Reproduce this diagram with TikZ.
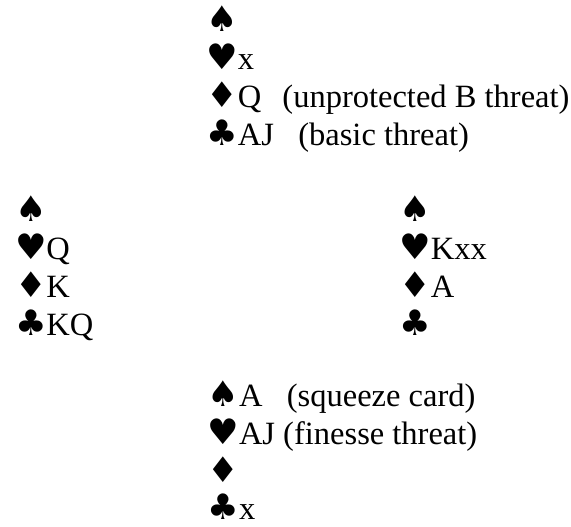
\documentclass[tikz,border=0pt]{standalone}
\usepackage{fontspec}
\setmainfont{Liberation Serif}
\newfontfamily\suitfont{DejaVu Sans}
\usetikzlibrary{positioning}

% suit symbol in a box of fixed width, so the cards line up
\newcommand{\suit}[1]{\makebox[11.5pt][l]{{\suitfont\fontsize{13}{14}\selectfont #1}}}

\begin{document}
\begin{tikzpicture}[
    cards/.style={anchor=base west, inner sep=0pt, font=\fontsize{12}{14}\selectfont}
]
\useasboundingbox (0,0) rectangle (7.409,-6.838);

% North
\node[cards] (n-s) at (2.675,-0.410) {\suit{♠}};
\node[cards] (n-h) at (2.675,-0.903) {\suit{♥}x};
\node[cards] (n-d) at (2.675,-1.396) {\suit{♦}Q\hspace{7.8pt}(unprotected B threat)};
\node[cards] (n-c) at (2.675,-1.890) {\suit{♣}AJ\ \ \ (basic threat)};

% West
\node[cards] (w-s) at (0.190,-2.868) {\suit{♠}};
\node[cards] (w-h) at (0.190,-3.361) {\suit{♥}Q};
\node[cards] (w-d) at (0.190,-3.854) {\suit{♦}K};
\node[cards] (w-c) at (0.190,-4.347) {\suit{♣}KQ};

% East
\node[cards] (e-s) at (5.180,-2.868) {\suit{♠}};
\node[cards] (e-h) at (5.180,-3.361) {\suit{♥}Kxx};
\node[cards] (e-d) at (5.180,-3.854) {\suit{♦}A};
\node[cards] (e-c) at (5.180,-4.347) {\suit{♣}};

% South
\node[cards] (s-s) at (2.690,-5.270) {\suit{♠}A\ \ \ (squeeze card)};
\node[cards] (s-h) at (2.690,-5.763) {\suit{♥}AJ (finesse threat)};
\node[cards] (s-d) at (2.690,-6.256) {\suit{♦}};
\node[cards] (s-c) at (2.690,-6.740) {\suit{♣}x};

\end{tikzpicture}
\end{document}
